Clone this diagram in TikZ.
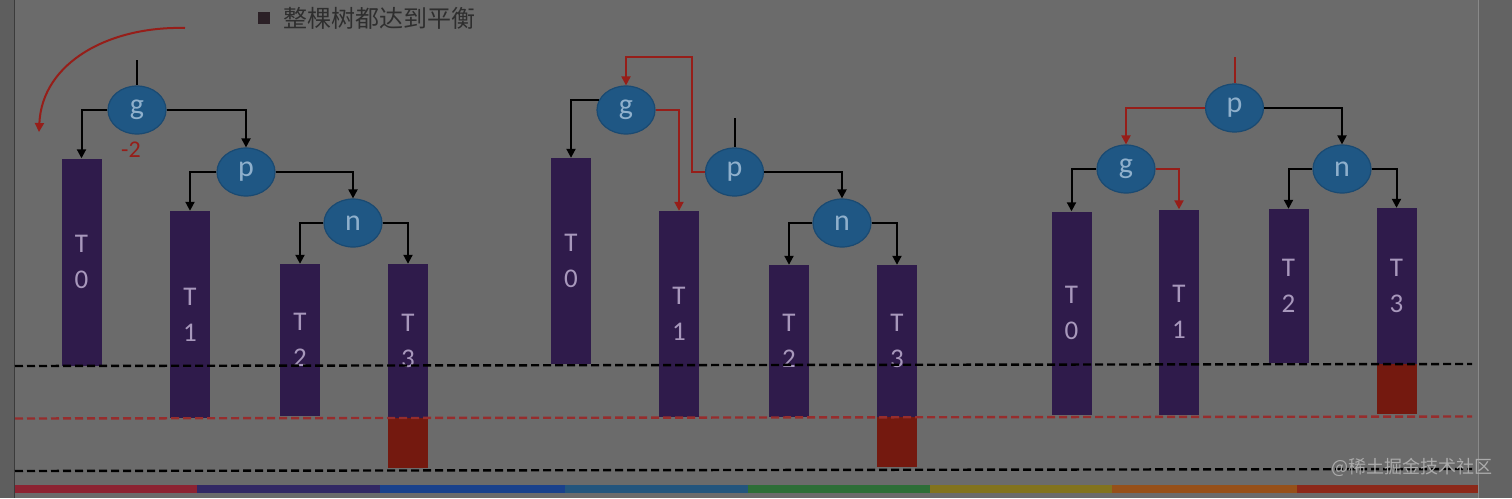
\documentclass[tikz,border=0pt]{standalone}
\usepackage{fontspec}
\setmainfont{Carlito}
\newfontfamily\cjk{Noto Sans CJK SC}
\usetikzlibrary{arrows.meta,shapes.geometric}
\definecolor{bg}{HTML}{6B6B6B}
\definecolor{stripL}{HTML}{5E5E5E}
\definecolor{stripR}{HTML}{636363}
\definecolor{boxpurple}{HTML}{2F1B4B}
\definecolor{boxtext}{HTML}{A898BC}
\definecolor{nodeblue}{HTML}{1F5784}
\definecolor{nodeedge}{HTML}{1A4A72}
\definecolor{nodetext}{HTML}{8FB0CC}
\definecolor{redline}{HTML}{961E19}
\definecolor{redbox}{HTML}{74190F}
\definecolor{reddash}{HTML}{962D2D}
\definecolor{titletext}{HTML}{2E2E2E}
\definecolor{titlesq}{HTML}{2B2026}
\definecolor{wm}{HTML}{ABABAB}
\definecolor{barA}{HTML}{8C2332}
\definecolor{barB}{HTML}{322864}
\definecolor{barC}{HTML}{19418C}
\definecolor{barD}{HTML}{23557D}
\definecolor{barE}{HTML}{2D6E37}
\definecolor{barF}{HTML}{82731E}
\definecolor{barG}{HTML}{965019}
\definecolor{barH}{HTML}{8C2819}
\begin{document}
\begin{tikzpicture}[x=1pt,y=-1pt,
  tnode/.style={ellipse, fill=nodeblue, draw=nodeedge, line width=1.2pt,
    minimum width=58pt, minimum height=48pt, inner sep=0pt, text=nodetext,
    font=\fontsize{30}{30}\selectfont},
  sub/.style={rectangle, fill=boxpurple, minimum width=40pt, inner sep=0pt,
    text=boxtext, align=center, font=\fontsize{27}{36}\selectfont},
  redgrow/.style={rectangle, fill=redbox, minimum width=40pt, inner sep=0pt},
  arr/.style={-{Triangle[length=9pt,width=9pt]}, line width=2pt, draw=black},
  rarr/.style={-{Triangle[length=9pt,width=9pt]}, line width=2pt, draw=redline},
  stub/.style={line width=2pt},
  dline/.style={line width=2.4pt, dash pattern=on 8pt off 4pt},
]
\useasboundingbox (0,0) rectangle (1512,498);
\fill[bg] (0,0) rectangle (1512,498);
\fill[stripL] (0,0) rectangle (14,498);
\fill[stripR] (1478,0) rectangle (1512,498);
\draw[line width=1pt, color=black!45!bg] (14,0) -- (14,498);
\draw[line width=1pt, color=white!20!bg] (1478,0) -- (1478,498);

% bottom colour bar
\fill[barA] (15,485) rectangle (197,493);
\fill[barB] (197,485) rectangle (380,493);
\fill[barC] (380,485) rectangle (565,493);
\fill[barD] (565,485) rectangle (748,493);
\fill[barE] (748,485) rectangle (930,493);
\fill[barF] (930,485) rectangle (1112,493);
\fill[barG] (1112,485) rectangle (1297,493);
\fill[barH] (1297,485) rectangle (1478,493);

% title
\node[rectangle, fill=titlesq, minimum size=12pt, inner sep=0pt] (tsq) at (264,18) {};
\node[anchor=west, inner sep=0pt, text=titletext, font=\cjk\fontsize{24}{24}\selectfont] (title) at (283,18.5) {整棵树都达到平衡};

% ---------- panel 1 ----------
\node[sub, minimum height=207pt] (a0) at (81.5,262) {T\\0};
\node[sub, minimum height=207pt] (a1) at (190,314.5) {T\\1};
\node[sub, minimum height=152pt] (a2) at (300,340) {T\\2};
\node[sub, minimum height=154pt] (a3) at (408,341) {T\\3};
\node[redgrow, minimum height=50pt, anchor=north] (a4) at (a3.south) {};
\node[tnode] (g1) at (137,110) {g};
\node[tnode] (p1) at (246,172) {p};
\node[tnode] (n1) at (353,223) {n};
\node[text=redline, font=\fontsize{24}{24}\selectfont, inner sep=0pt] (m2) at (131,150) {-2};
\coordinate (s1) at (137,60);
\draw[stub] (s1) -- (g1.north);
\draw[arr] (g1.west) -| (a0.north);
\draw[arr] (g1.east) -| (p1.north);
\draw[arr] (p1.west) -| (a1.north);
\draw[arr] (p1.east) -| (n1.north);
\draw[arr] (n1.west) -| (a2.north);
\draw[arr] (n1.east) -| (a3.north);
\coordinate (c1) at (185,28);
\coordinate (c2) at (39,132);
\draw[rarr] (c1) .. controls (110,26) and (42,62) .. (c2);

% ---------- panel 2 ----------
\node[sub, minimum height=206pt] (b0) at (571,261) {T\\0};
\node[sub, minimum height=206pt] (b1) at (679,314) {T\\1};
\node[sub, minimum height=152pt] (b2) at (789,341) {T\\2};
\node[sub, minimum height=152pt] (b3) at (897,341) {T\\3};
\node[redgrow, minimum height=50pt, anchor=north] (b4) at (b3.south) {};
\node[tnode] (g2) at (626,110) {g};
\node[tnode] (p2) at (734.5,172) {p};
\node[tnode] (n2) at (842,223) {n};
\coordinate (s2) at (734.5,118);
\draw[stub] (s2) -- (p2.north);
\draw[arr] (g2.160) -| (b0.north);
\draw[rarr] (g2.east) -| (b1.north);
\coordinate (k2) at (692,57);
\draw[rarr] (p2.west) -| (k2) -| (g2.north);
\draw[arr] (p2.east) -| (n2.north);
\draw[arr] (n2.west) -| (b2.north);
\draw[arr] (n2.east) -| (b3.north);

% ---------- panel 3 ----------
\node[sub, minimum height=203pt] (c0) at (1071.5,313) {T\\0};
\node[sub, minimum height=205pt] (c1b) at (1179,312) {T\\1};
\node[sub, minimum height=154pt] (c2b) at (1288.5,286) {T\\2};
\node[sub, minimum height=156pt] (c3) at (1396.5,286) {T\\3};
\node[redgrow, minimum height=50pt, anchor=north] (c4) at (c3.south) {};
\node[tnode] (p3) at (1234.5,108) {p};
\node[tnode] (g3) at (1126,169) {g};
\node[tnode] (n3) at (1342,169) {n};
\coordinate (s3) at (1234.5,57);
\draw[stub, draw=redline] (s3) -- (p3.north);
\draw[rarr] (p3.west) -| (g3.north);
\draw[arr] (p3.east) -| (n3.north);
\draw[arr] (g3.west) -| (c0.north);
\draw[rarr] (g3.east) -| (c1b.north);
\draw[arr] (n3.west) -| (c2b.north);
\draw[arr] (n3.east) -| (c3.north);

% dashed level lines
\draw[dline, draw=black] (15,366) -- (1472,364);
\draw[dline, draw=reddash] (15,418.5) -- (1472,416.5);
\draw[dline, draw=black] (15,471) -- (1472,469);

% watermark
\node[anchor=east, inner sep=0pt, text=wm, font=\cjk\fontsize{18}{18}\selectfont] (wmark) at (1493,467) {@稀土掘金技术社区};
\end{tikzpicture}
\end{document}
